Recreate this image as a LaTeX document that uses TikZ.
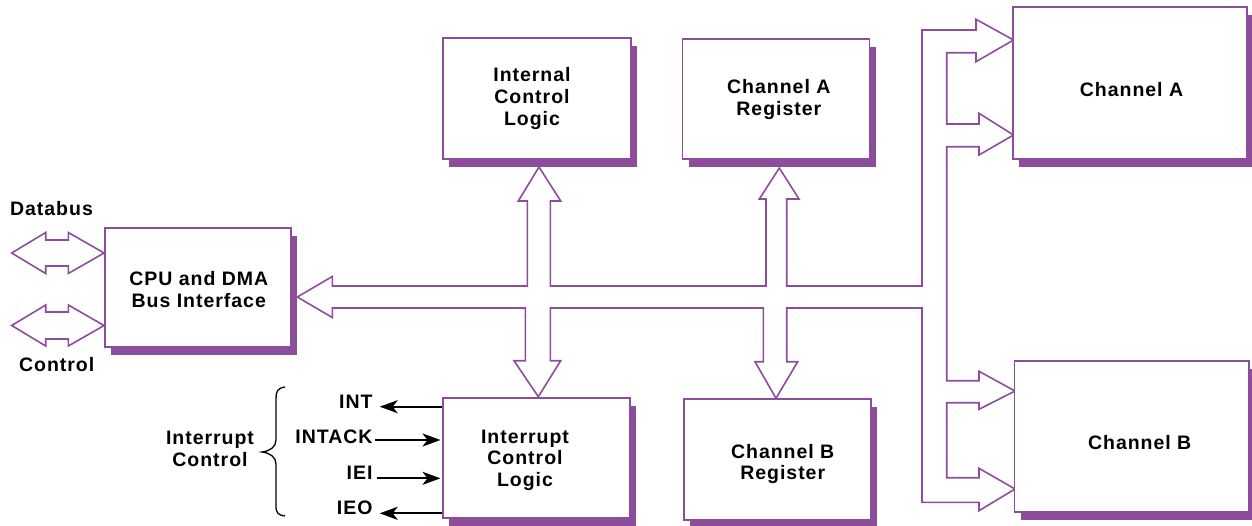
\documentclass[tikz,border=0pt]{standalone}
\usepackage{fontspec}
\newfontfamily\diagfont{Liberation Sans}[LetterSpace=5]
\usetikzlibrary{shadows,arrows.meta}
\definecolor{purp}{RGB}{140,78,155}
\begin{document}
\begin{tikzpicture}[x=1pt,y=-1pt,
  box/.style={draw=purp, line width=1.8pt, fill=white, inner sep=0pt,
    drop shadow={shadow xshift=6pt, shadow yshift=-8pt, fill=purp, opacity=1}},
  txt/.style={font=\diagfont\bfseries\fontsize{19.5}{21.7}\selectfont, align=center, inner sep=0pt},
  bus/.style={draw=purp, line width=1.6pt, fill=white, line join=miter},
  sig/.style={black, line width=1.7pt, -{Stealth[length=18pt,width=13pt,inset=5pt]}}]
\useasboundingbox (0,0) rectangle (1252,525);

% main bus (drawn first, boxes on top)
\draw[bus] (297.3,297)
 -- (332.3,276.5) -- (332.3,286) -- (527.3,286) -- (527.3,201) -- (518.3,201) -- (539,167) -- (560.7,201) -- (550.3,201) -- (550.3,286)
 -- (766,286) -- (766,199) -- (759.3,199) -- (779.3,168) -- (799,199) -- (786.7,199) -- (786.7,286)
 -- (922,286) -- (922,30) -- (976,30) -- (976,19.3) -- (1013.5,40) -- (976,61.7) -- (976,52.7) -- (946.7,52.7) -- (946.7,124)
 -- (979,124) -- (979,113.3) -- (1013.5,135) -- (979,155) -- (979,146.7) -- (946.7,146.7) -- (946.7,380.7)
 -- (979,380.7) -- (979,371.3) -- (1015,391) -- (979,409.3) -- (979,402.7) -- (946.7,402.7) -- (946.7,477.7)
 -- (979,477.7) -- (979,468.3) -- (1015,489) -- (979,510.7) -- (979,502.3) -- (922,502.3) -- (922,308)
 -- (786.7,308) -- (786.7,361.7) -- (797.7,361.7) -- (776,398.3) -- (755,361.7) -- (763.3,361.7) -- (763.3,308)
 -- (550.3,308) -- (550.3,360.7) -- (560.7,360.7) -- (538.3,396.7) -- (514,360.7) -- (525.3,360.7) -- (525.3,308)
 -- (332.3,308) -- (332.3,317.5) -- cycle;

% boxes
\node[box, minimum width=186pt, minimum height=119pt] (cpu) at (198,287.5) {};
\node[box, minimum width=188pt, minimum height=121pt] (icl) at (536.7,98.3) {};
\node[box, minimum width=187pt, minimum height=120pt] (car) at (776,99.2) {};
\node[box, minimum width=234pt, minimum height=152pt] (cha) at (1130,83.2) {};
\node[box, minimum width=234.5pt, minimum height=150.7pt] (chb) at (1131.8,436.3) {};
\node[box, minimum width=187pt, minimum height=120pt] (intl) at (536.4,457.7) {};
\node[box, minimum width=187pt, minimum height=121pt] (cbr) at (777.5,459.5) {};

% box texts
\node[txt] (cpu-t) at (198.8,289.8) {CPU and DMA\\Bus Interface};
\node[txt] (icl-t) at (532,98.6) {Internal\\Control\\Logic};
\node[txt] (car-t) at (778.8,99.5) {Channel A\\Register};
\node[txt] (cha-t) at (1131.5,89.5) {Channel A};
\node[txt] (chb-t) at (1139.7,442.5) {Channel B};
\node[txt] (intl-t) at (525,460.3) {Interrupt\\Control\\Logic};
\node[txt] (cbr-t) at (782.7,464.1) {Channel B\\Register};

% left side buses
\node[txt] (db-t) at (51.5,208.5) {Databus};
\node[txt] (ct-t) at (56.7,365) {Control};
\draw[bus] (11.7,253) -- (45.7,232.5) -- (45.7,240) -- (68.3,240) -- (68.3,232.5) -- (cpu.west|-0,253)
  -- (68.3,273.5) -- (68.3,266) -- (45.7,266) -- (45.7,273.5) -- cycle;
\draw[bus] (11.7,325.5) -- (45.7,305) -- (45.7,312) -- (68.3,312) -- (68.3,305) -- (cpu.west|-0,325.5)
  -- (68.3,346) -- (68.3,339) -- (45.7,339) -- (45.7,346) -- cycle;

% interrupt control
\node[txt] (ic-t) at (210,448.8) {Interrupt\\Control};
\draw[line width=1.3pt] (285,387) .. controls (278,388) and (276,391) .. (276,398) -- (276,440)
  .. controls (276,447) and (270,451) .. (262,452) .. controls (270,453) and (276,457) .. (276,464)
  -- (276,506) .. controls (276,513) and (278,515) .. (285,516);

\node[txt, anchor=base east] (lint) at (372.7,408) {INT};
\node[txt, anchor=base east] (lintack) at (372.7,443.3) {INTACK};
\node[txt, anchor=base east] (liei) at (372.7,479.3) {IEI};
\node[txt, anchor=base east] (lieo) at (372.7,514.5) {IEO};

\draw[sig, shorten >=7pt] (intl.west|-0,406.7) -- (lint.east|-0,406.7);
\draw[sig, shorten <=2.5pt, shorten >=1.5pt] (lintack.east|-0,440) -- (intl.west|-0,440);
\draw[sig, shorten <=4pt, shorten >=1.5pt] (liei.east|-0,478.3) -- (intl.west|-0,478.3);
\draw[sig, shorten >=7pt] (intl.west|-0,513.3) -- (lieo.east|-0,513.3);
\end{tikzpicture}
\end{document}
